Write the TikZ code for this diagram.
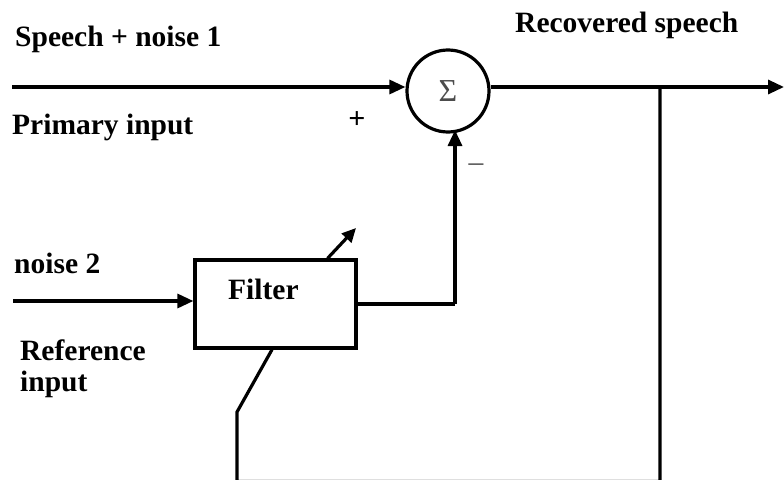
\documentclass[tikz,border=0pt]{standalone}
\usepackage{fontspec}
\setmainfont{Liberation Serif}
\usetikzlibrary{arrows.meta,positioning}

\begin{document}
\begin{tikzpicture}[x=1pt, y=-1pt,
			sig/.style={line width=3.2pt},
			arr/.style={sig, -{Triangle[length=16pt,width=14pt]}},
			lbl/.style={anchor=base west, inner sep=0pt, font=\fontsize{29.5}{34}\selectfont\bfseries},
			block/.style={draw, line width=3.2pt, minimum width=161pt, minimum height=88pt, inner sep=0pt},
			sumnode/.style={circle, draw, line width=3.2pt, minimum size=82pt, inner sep=0pt,
				font=\fontsize{32}{36}\selectfont, text=black!70}]
			
			\useasboundingbox (0,0) rectangle (784,479);
			
			% Blocks
			\node[sumnode] (sum) at (448,91) {Σ};
			\node[block] (filt) at (275.5,304) {};
			\node[lbl] (filtlbl) at (228,299) {Filter};
			
			% Labels
			\node[lbl] (in1lbl) at (15,46) {Speech + noise 1};
			\node[lbl] (prilbl) at (12,134) {Primary input};
			\node[lbl] (outlbl) at (515,32) {Recovered speech};
			\node[lbl] (in2lbl) at (14,273) {noise 2};
			\node[lbl] (reflbl) at (20,360) {Reference};
			\node[lbl] (reflblb) at (20,391) {input};
			\node[inner sep=0pt, font=\fontsize{30}{34}\selectfont\bfseries] (plus) at (357,120) {+};
			\node[inner sep=0pt, font=\fontsize{29.5}{34}\selectfont, text=black!70] (minus) at (476,168) {–};
			
			% Coordinates
			\coordinate (in1) at (12,87);
			\coordinate (in2) at (13,301);
			\coordinate (out) at (784,87);
			\coordinate (br) at (660,87);
			\coordinate (up) at (455,304);
			\coordinate (low) at (660,481.5);
			\coordinate (bend) at (237,412);
			\coordinate (adj) at (356,228);
			
			% Arrows
			\draw[arr] (in1) -- (in1 -| sum.west);
			\draw[arr] (sum.east |- br) -- (out);
			\draw[arr] (in2) -- (in2 -| filt.west);
			\draw[sig] (filt.east) -- (up);
			\draw[arr] (up) -- (455,130);
			\draw[sig] (br) -- (low) -- (bend |- low) -- (bend) -- ([xshift=-3.5pt]filt.south);
			\draw[sig, -{Triangle[length=14pt,width=13pt]}] ([xshift=52pt]filt.north) -- (adj);
		\end{tikzpicture}
\end{document}
